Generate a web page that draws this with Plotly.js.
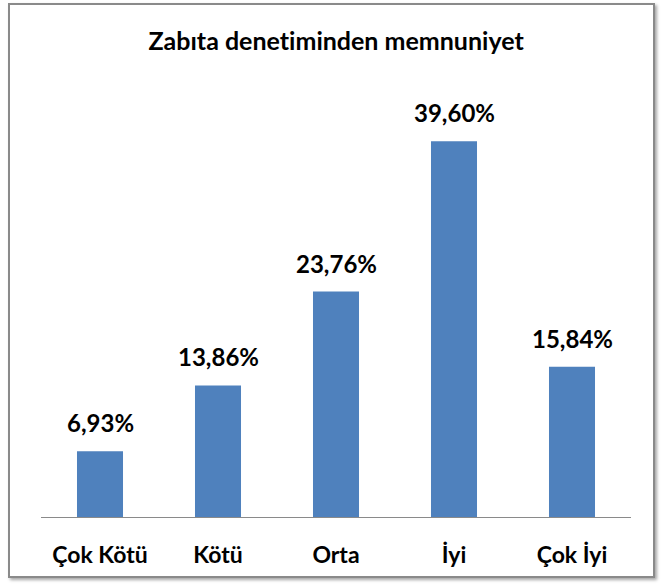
<!DOCTYPE html>
<html><head><meta charset="utf-8">
<script src="https://cdn.plot.ly/plotly-3.0.1.min.js"></script>
<style>
body{margin:0;padding:0;background:#fff;}
#wrap{position:relative;width:663px;height:586px;}
#chart{position:absolute;left:0;top:0;width:663px;height:586px;}
#chart text{font-variant-ligatures:none;font-feature-settings:"liga" 0;}
#frame{position:absolute;left:8px;top:3px;width:643px;height:571px;border:2px solid #8a8a8a;box-shadow:2px 2px 3px rgba(0,0,0,0.35);pointer-events:none;}
</style></head>
<body>
<div id="wrap"><div id="chart"></div><div id="frame"></div></div>
<script>
const categories = ["Çok Kötü", "Kötü", "Orta", "İyi", "Çok İyi"];
const values = [6.93, 13.86, 23.76, 39.60, 15.84];
const labels = ["6,93%", "13,86%", "23,76%", "39,60%", "15,84%"];
const font = "Lato, 'Open Sans', sans-serif";

const trace = {
  type: 'bar', x: categories, y: values,
  marker: {color: '#4F81BD'}, width: 0.39, hoverinfo: 'none'
};
const annotations = categories.map((c, i) => ({
  x: c, y: values[i], text: '<b>' + labels[i] + '</b>', showarrow: false,
  yanchor: 'bottom', yshift: 12, font: {family: font, size: 24, color: '#000'}
}));
const layout = {
  width: 663, height: 586,
  margin: {l: 41, r: 32, t: 90, b: 69},
  paper_bgcolor: '#fff', plot_bgcolor: '#fff',
  showlegend: false,
  title: {text: '<b>Zabıta denetiminden memnuniyet</b>', x: 0.507, xanchor: 'center', y: 0.930, yanchor: 'middle',
          font: {family: font, size: 25, color: '#000'}},
  xaxis: {showline: true, linecolor: '#8a8a8a', linewidth: 1, ticks: 'outside', ticklen: 17, tickcolor: 'rgba(0,0,0,0)',
          tickfont: {family: font, size: 23, color: '#000'}, showgrid: false, fixedrange: true},
  yaxis: {range: [0, 45], visible: false, showgrid: false, zeroline: false, fixedrange: true},
  annotations: annotations
};
Plotly.newPlot('chart', [trace], layout, {displayModeBar: false, staticPlot: true}).then(() => {
  document.querySelectorAll('.xtick text').forEach(t => t.style.fontWeight = 'bold');
});
</script>
</body></html>
